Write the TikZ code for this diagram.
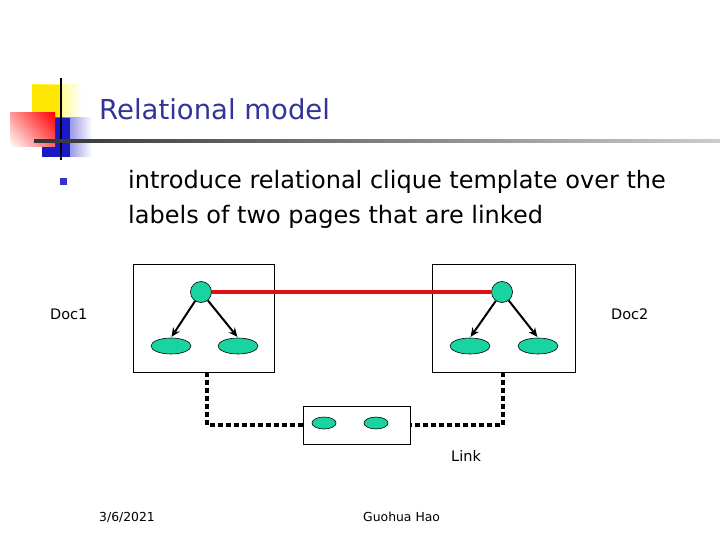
\documentclass[tikz,border=0pt]{standalone}
\usepackage{fontspec}
\setmainfont{DejaVu Sans}
\usetikzlibrary{arrows.meta,shapes.geometric}
\definecolor{titleblue}{HTML}{333399}
\definecolor{bulletblue}{HTML}{3333CC}
\definecolor{mint}{HTML}{19D3A0}
\definecolor{redline}{HTML}{DD1111}
\tikzset{
  docbox/.style={draw=black, line width=0.8pt},
  topnode/.style={circle, draw=black, line width=0.6pt, fill=mint, minimum size=21pt, inner sep=0pt},
  leaf/.style={ellipse, draw=black, line width=0.6pt, fill=mint, minimum width=40pt, minimum height=16pt, inner sep=0pt},
  smallleaf/.style={ellipse, draw=black, line width=0.6pt, fill=mint, minimum width=24pt, minimum height=12pt, inner sep=0pt},
  edge/.style={-{Stealth[length=9pt,width=8pt]}, line width=2pt, shorten >=1pt},
  linkline/.style={line width=4.5pt, dash pattern=on 5pt off 3pt},
  lbl/.style={font=\fontsize{14.5}{17}\selectfont, inner sep=0pt},
  foot/.style={font=\fontsize{12.4}{15}\selectfont, inner sep=0pt},
}
\begin{document}
\begin{tikzpicture}[x=1pt,y=-1pt]
\useasboundingbox (0,0) rectangle (720,540);
% decoration
\shade[left color=yellow!90!orange, right color=white] (32,85) rectangle (82,118);
\fill[yellow!90!orange] (32,85) rectangle (62,118);
\shade[left color=blue!75!black!90, right color=white] (42,118) rectangle (92,157);
\fill[blue!75!black!90] (42,118) rectangle (70,157);
\shade[left color=white, right color=red] (10,113) rectangle (55,147);
\shade[top color=red, bottom color=white, opacity=0.4] (10,113) rectangle (55,147);
\draw[line width=2pt] (61,78) -- (61,160);
\shade[left color=black!80, right color=black!20] (34,140) rectangle (720,142.5);
% title
\node[anchor=base west, text=titleblue, font=\fontsize{27.5}{32}\selectfont, inner sep=0pt] (title) at (99,120) {Relational model};
% bullet
\fill[bulletblue] (60,178) rectangle (67,185) coordinate (bul);
\node[anchor=base west, align=left, font=\fontsize{24}{35}\selectfont, inner sep=0pt] (txt) at (128,223) {introduce relational clique template over the\\labels of two pages that are linked};
% doc boxes
\node[docbox, minimum width=141pt, minimum height=108pt, inner sep=0pt] (d1) at (203.5,318) {};
\node[docbox, minimum width=143pt, minimum height=108pt, inner sep=0pt] (d2) at (503.5,318) {};
\node[topnode] (c1) at (201,292) {};
\node[leaf] (e11) at (171,346) {};
\node[leaf] (e12) at (238,346) {};
\node[topnode] (c2) at (502,292) {};
\node[leaf] (e21) at (470,346) {};
\node[leaf] (e22) at (538,346) {};
\draw[edge] (c1) -- (e11.north);
\draw[edge] (c1) -- (e12.north);
\draw[edge] (c2) -- (e21.north);
\draw[edge] (c2) -- (e22.north);
\draw[redline, line width=4pt] (c1) -- (c2);
% link box
\node[docbox, minimum width=107pt, minimum height=38pt, inner sep=0pt] (lk) at (356.5,425) {};
\node[smallleaf] (l1) at (324,423) {};
\node[smallleaf] (l2) at (376,423) {};
\coordinate (p1) at (207,372);
\coordinate (p2) at (503,372);
\draw[linkline] (p1) |- (lk.west);
\draw[linkline] (p2) |- (lk.east);
% labels
\node[lbl, anchor=base west] (doc1) at (50,319) {Doc1};
\node[lbl, anchor=base west] (doc2) at (611,319) {Doc2};
\node[lbl, anchor=base west] (link) at (451,461) {Link};
\node[foot, anchor=base west] (date) at (99,521) {3/6/2021};
\node[foot, anchor=base west] (auth) at (363,521) {Guohua Hao};
\end{tikzpicture}
\end{document}
